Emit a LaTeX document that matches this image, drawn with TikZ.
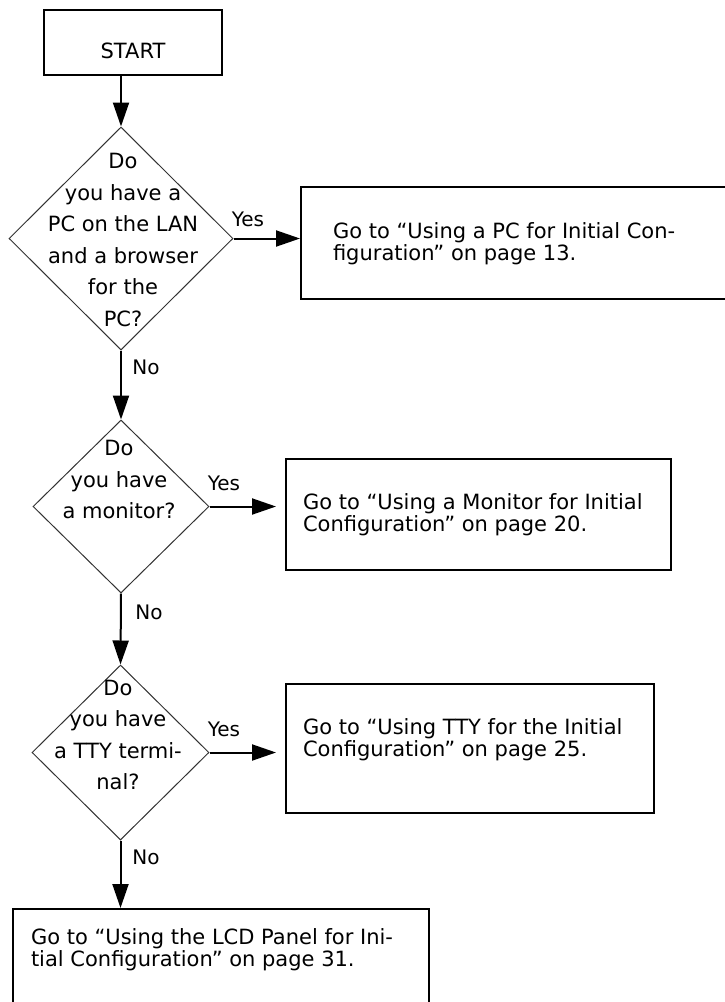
\documentclass[tikz,border=0pt]{standalone}
\usepackage{fontspec}
\setmainfont{DejaVu Sans}
\usetikzlibrary{arrows.meta,shapes.geometric,calc}
% #1 width, #2 height, #3 left offset, #4 top offset, #5 baselineskip, #6 text
\newcommand{\boxtxt}[6]{\parbox[c][#2][t]{#1}{\vspace*{#4}\fontsize{21}{#5}\selectfont\raggedright\leftskip=#3\relax #6\par}}
\tikzset{
  gobox/.style={draw, line width=2pt, inner sep=0pt, anchor=north west},
  decision/.style={draw=black!80, line width=1pt, shape=diamond, inner sep=0pt, minimum width=#1},
  dtext/.style={align=center, inner sep=0pt, font=\fontsize{21}{31.5}\selectfont},
  lbl/.style={inner sep=0pt, font=\fontsize{20}{20}\selectfont},
  flow/.style={line width=2pt, -{Triangle[length=24pt,width=16pt]}},
}
\begin{document}
\begin{tikzpicture}[x=1pt,y=-1pt]
\useasboundingbox (0,0) rectangle (724,1002);
% start
\node[gobox] (start) at (43,9) {\parbox[c][65pt][t]{178pt}{\vspace*{33pt}\centering\fontsize{21}{21}\selectfont START\par}};
% decisions
\node[decision=224pt, minimum height=223pt] (d1) at (121,238.5) {};
\node[decision=176pt, minimum height=173pt] (d2) at (121,506.5) {};
\node[decision=177pt, minimum height=175pt] (d3) at (120.5,752.5) {};
\node[dtext] (d1t) at (123,240) {Do\\you have a\\PC on the LAN\\and a browser\\for the\\PC?};
\node[dtext] (d2t) at (119,479.5) {Do\\you have\\a monitor?};
\node[dtext] (d3t) at (118,735) {Do\\you have\\a TTY termi-\\nal?};
% result boxes
\node[gobox] (b1) at (300,186) {\boxtxt{426pt}{112pt}{32pt}{36pt}{17pt}{Go to “Using a PC for Initial Con-\\figuration” on page 13.}};
\node[gobox] (b2) at (285,458) {\boxtxt{385pt}{111pt}{17pt}{35pt}{16.5pt}{Go to “Using a Monitor for Initial\\Configuration” on page 20.}};
\node[gobox] (b3) at (285,683) {\boxtxt{368pt}{129pt}{17pt}{35pt}{22pt}{Go to “Using TTY for the Initial\\Configuration” on page 25.}};
\node[gobox] (b4) at (12,908) {\boxtxt{416pt}{110pt}{18pt}{20pt}{19pt}{Go to “Using the LCD Panel for Ini-\\tial Configuration” on page 31.}};
% connectors
\draw[flow] (d1.north |- start.south) -- (d1.north);
\draw[flow] (d1.east) -- (d1.east -| b1.west);
\draw[flow] (d1.south) -- (d2.north);
\draw[flow, shorten >=9pt] (d2.east) -- (d2.east -| b2.west);
\draw[flow] (d2.south) -- (d3.north);
\draw[flow, shorten >=9pt] (d3.east) -- (d3.east -| b3.west);
\draw[flow] (d3.south) -- (d3.south |- b4.north);
% labels
\node[lbl] (y1) at (248,219) {Yes};
\node[lbl] (y2) at (224,483) {Yes};
\node[lbl] (y3) at (224,729) {Yes};
\node[lbl] (n1) at (146,367) {No};
\node[lbl] (n2) at (149,612) {No};
\node[lbl] (n3) at (146,857) {No};
\end{tikzpicture}
\end{document}
